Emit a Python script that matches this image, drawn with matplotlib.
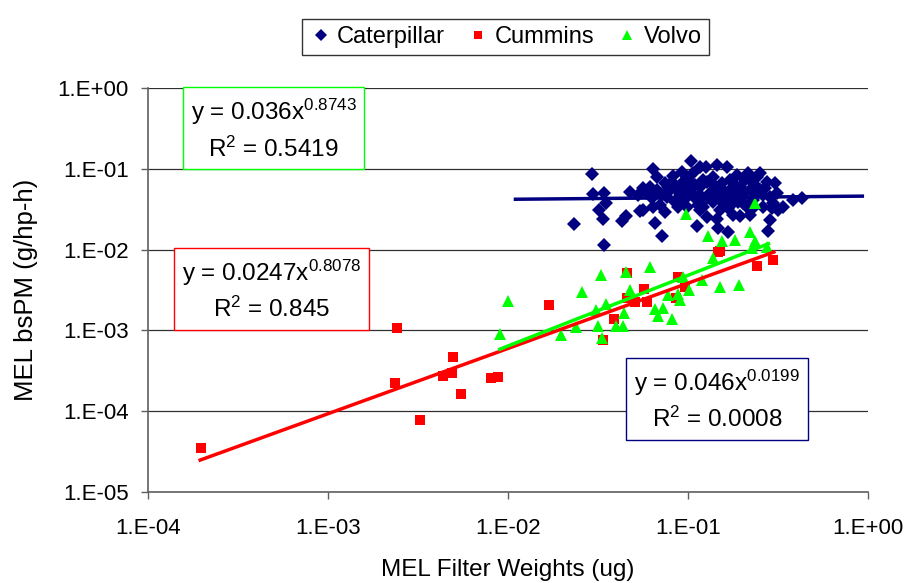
import numpy as np
import matplotlib
matplotlib.use("Agg")
import matplotlib.pyplot as plt
from matplotlib.ticker import FixedLocator, FuncFormatter, NullLocator

plt.rcParams["font.family"] = ["Liberation Sans", "DejaVu Sans"]
plt.rcParams["mathtext.fontset"] = "custom"
plt.rcParams["mathtext.rm"] = "Liberation Sans"
plt.rcParams["mathtext.it"] = "Liberation Sans"

# Caterpillar (filter weight ug, bsPM g/hp-h)
cat_x = [0.0292, 0.0298, 0.0342, 0.0350, 0.0322, 0.0336, 0.0233, 0.0342, 0.0452, 0.0430,
         0.0476, 0.0541, 0.0565, 0.0656, 0.0720, 0.0642, 0.0676, 0.0745, 0.0829, 0.0922,
         0.1035, 0.1166, 0.1259, 0.1443, 0.1640, 0.0589, 0.0628, 0.0670, 0.0699, 0.0761,
         0.0794, 0.0847, 0.0903, 0.0962, 0.1004, 0.1048, 0.1117, 0.1166, 0.1217, 0.1270,
         0.1326, 0.1383, 0.1443, 0.1506, 0.1538, 0.1640, 0.1712, 0.1786, 0.1864, 0.1945,
         0.1987, 0.2074, 0.2118, 0.2211, 0.2307, 0.2407, 0.2512, 0.2622, 0.2736, 0.2855,
         0.2980, 0.3177, 0.3847, 0.4280, 0.2855, 0.2795, 0.1475, 0.1661, 0.1117, 0.1270,
         0.1443, 0.1945, 0.1166, 0.0884, 0.0530, 0.0565, 0.0745, 0.0983, 0.1786, 0.2211,
         0.2407, 0.2164, 0.1383, 0.1712, 0.1071, 0.0777, 0.3386, 0.3110, 0.0983, 0.1270,
         0.1606, 0.2074, 0.2622, 0.1905, 0.1506, 0.1166, 0.0922, 0.2307, 0.2512, 0.1786,
         0.0615, 0.0714, 0.0811, 0.0865, 0.0942, 0.1094, 0.1142, 0.1353, 0.1413, 0.1572,
         0.1675, 0.1825, 0.2030, 0.2258, 0.2357, 0.2678, 0.2917, 0.3043, 0.0642, 0.1217,
         0.0983]
cat_y = [0.0862, 0.0483, 0.0497, 0.0374, 0.0309, 0.0241, 0.0205, 0.0114, 0.0260, 0.0228,
         0.0521, 0.0303, 0.0584, 0.0211, 0.0149, 0.0985, 0.0784, 0.0674, 0.0814, 0.0922,
         0.1261, 0.1063, 0.1063, 0.1104, 0.1063, 0.0497, 0.0431, 0.0547, 0.0356, 0.0452,
         0.0547, 0.0392, 0.0474, 0.0601, 0.0727, 0.0497, 0.0411, 0.0601, 0.0340, 0.0693,
         0.0497, 0.0392, 0.0547, 0.0309, 0.0661, 0.0452, 0.0547, 0.0374, 0.0838, 0.0601,
         0.0452, 0.0727, 0.0340, 0.0547, 0.0411, 0.0784, 0.0547, 0.0340, 0.0693, 0.0452,
         0.0374, 0.0309, 0.0411, 0.0439, 0.0232, 0.0170, 0.0183, 0.0167, 0.0196, 0.0256,
         0.0237, 0.0260, 0.0309, 0.0340, 0.0474, 0.0309, 0.0295, 0.0340, 0.0268, 0.0268,
         0.0601, 0.0879, 0.0799, 0.0727, 0.0879, 0.0601, 0.0340, 0.0497, 0.0452, 0.0431,
         0.0356, 0.0521, 0.0474, 0.0392, 0.0411, 0.0474, 0.0661, 0.0324, 0.0879, 0.0497,
         0.0601, 0.0474, 0.0693, 0.0547, 0.0411, 0.0630, 0.0356, 0.0661, 0.0452, 0.0547,
         0.0324, 0.0630, 0.0374, 0.0693, 0.0497, 0.0573, 0.0324, 0.0661, 0.0340, 0.0727,
         0.0799]

# Cummins
cum_x = [1.97e-4, 2.42e-3, 2.35e-3, 3.24e-3, 4.36e-3, 4.89e-3, 4.94e-3, 5.48e-3, 8.05e-3,
         8.8e-3, 0.0169, 0.0337, 0.0388, 0.0458, 0.0458, 0.0508, 0.0570, 0.0592, 0.0879,
         0.0857, 0.0962, 0.147, 0.151, 0.242, 0.297]
cum_y = [3.5e-5, 1.07e-3, 2.23e-4, 7.8e-5, 2.73e-4, 2.97e-4, 4.69e-4, 1.63e-4, 2.58e-4,
         2.65e-4, 2.06e-3, 7.6e-4, 1.38e-3, 5.13e-3, 2.52e-3, 2.25e-3, 3.25e-3, 2.25e-3, 4.58e-3,
         2.52e-3, 3.44e-3, 9.3e-3, 9.6e-3, 6.27e-3, 7.43e-3]

# Volvo
vol_x = [0.00903, 0.0100, 0.0197, 0.0239, 0.0258, 0.0308, 0.0316, 0.0329, 0.0333, 0.0350,
         0.0398, 0.0436, 0.0441, 0.0453, 0.0476, 0.0615, 0.0656, 0.0726, 0.0681, 0.0815,
         0.0774, 0.0879, 0.0903, 0.0938, 0.1014, 0.120, 0.0975, 0.129, 0.138, 0.151,
         0.155, 0.182, 0.192, 0.221, 0.236, 0.227, 0.275, 0.236]
vol_y = [9.0e-4, 2.31e-3, 8.8e-4, 1.10e-3, 2.99e-3, 1.79e-3, 1.13e-3, 4.85e-3, 8.05e-4, 2.12e-3,
         1.13e-3, 1.13e-3, 1.64e-3, 5.28e-3, 3.16e-3, 6.09e-3, 1.84e-3, 1.89e-3, 1.51e-3, 1.38e-3,
         2.74e-3, 2.82e-3, 2.38e-3, 4.58e-3, 3.16e-3, 4.21e-3, 0.0276, 0.0147, 7.87e-3, 3.44e-3,
         0.0128, 0.0131, 3.65e-3, 0.0165, 0.0128, 0.0105, 0.0108, 0.0377]

# power trendlines y = a * x^b, drawn over the x span shown in the chart
series = ["Caterpillar", "Cummins", "Volvo"]
fit_a = [0.046, 0.0247, 0.036]
fit_b = [0.0199, 0.8078, 0.8743]
fit_r2 = ["0.0008", "0.845", "0.5419"]
fit_span = [(0.011, 0.93), (1.95e-4, 0.30), (0.0090, 0.28)]

colors = ["#000080", "#FF0000", "#00FF00"]
markers = ["D", "s", "^"]
msizes = [7.5, 7.0, 9.0]
xs = [cat_x, cum_x, vol_x]
ys = [cat_y, cum_y, vol_y]

fig = plt.figure(figsize=(9.09, 5.83), dpi=100)
ax = fig.add_axes([0.1628, 0.156, 0.7921, 0.693])

for name, x, y, c, m, ms in zip(series, xs, ys, colors, markers, msizes):
    ax.plot(x, y, linestyle="none", marker=m, markersize=ms, color=c,
            markeredgewidth=0, label=name, zorder=3)

for a, b, (x0, x1), c in zip(fit_a, fit_b, fit_span, colors):
    xx = np.array([x0, x1])
    ax.plot(xx, a * xx ** b, color=c, linewidth=2.5, zorder=4)

ax.set_xscale("log")
ax.set_yscale("log")
ax.set_xlim(1e-4, 1.0)
ax.set_ylim(1e-5, 1.0)

def sci_label(v, _):
    e = int(round(np.log10(v)))
    return f"1.E{'+' if e >= 0 else '-'}{abs(e):02d}"

ax.xaxis.set_major_locator(FixedLocator([1e-4, 1e-3, 1e-2, 1e-1, 1.0]))
ax.yaxis.set_major_locator(FixedLocator([1e-5, 1e-4, 1e-3, 1e-2, 1e-1, 1.0]))
ax.xaxis.set_minor_locator(NullLocator())
ax.yaxis.set_minor_locator(NullLocator())
ax.xaxis.set_major_formatter(FuncFormatter(sci_label))
ax.yaxis.set_major_formatter(FuncFormatter(sci_label))
ax.tick_params(axis="both", labelsize=16, direction="out", length=5, width=1,
               colors="#606060", labelcolor="black")
ax.tick_params(axis="x", pad=14)
ax.tick_params(axis="y", pad=9)

ax.grid(axis="y", color="#303030", linewidth=0.9)
ax.set_axisbelow(True)
for side in ["top", "right"]:
    ax.spines[side].set_visible(False)
for side in ["left", "bottom"]:
    ax.spines[side].set_color("#606060")
    ax.spines[side].set_linewidth(1.2)

ax.set_xlabel("MEL Filter Weights (ug)", fontsize=17.5, labelpad=14)
ax.set_ylabel("MEL bsPM (g/hp-h)", fontsize=18.5, labelpad=14)

# equation boxes (figure coordinates)
box_pos = [(0.789, 0.314), (0.299, 0.503), (0.301, 0.778)]
for a, b, r2, c, (bx, by) in zip(fit_a, fit_b, fit_r2, colors, box_pos):
    txt = f"y = {a}x$^{{{b}}}$\nR$^{{2}}$ = {r2}"
    fig.text(bx, by, txt, fontsize=17.5, ha="center", va="center", linespacing=1.45,
             multialignment="center",
             bbox=dict(boxstyle="square,pad=0.32", facecolor="white",
                       edgecolor=c, linewidth=1.0))

leg = fig.legend(loc="upper center", bbox_to_anchor=(0.556, 0.988), ncol=3,
                 fontsize=17, frameon=True, fancybox=False, handletextpad=0.2,
                 columnspacing=0.9, handlelength=1.0, borderpad=0.3, markerscale=0.8)
leg.get_frame().set_edgecolor("black")
leg.get_frame().set_linewidth(1.0)

fig.savefig("out.png", dpi=100)
